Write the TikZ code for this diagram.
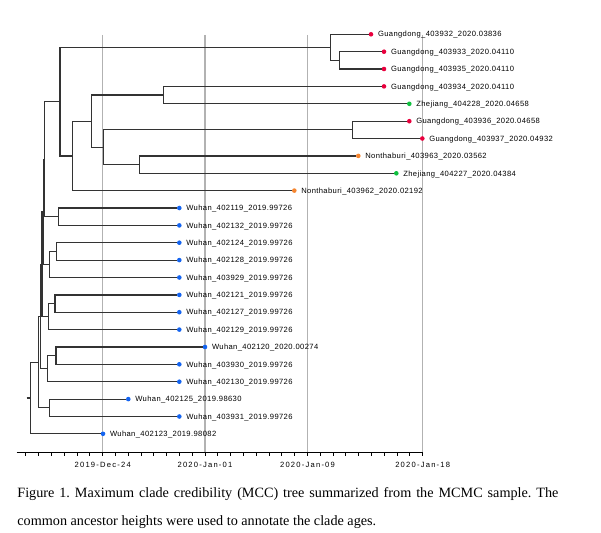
\documentclass[tikz,border=0pt]{standalone}
\usepackage{fontspec}
\setmainfont{Liberation Serif}
\newfontfamily\tipfont[LetterSpace=5]{Liberation Sans}
\newfontfamily\axisfont[LetterSpace=16]{Liberation Sans}
\usetikzlibrary{positioning}
\frenchspacing

\definecolor{gdred}{HTML}{E8003D}
\definecolor{zjgreen}{HTML}{10C040}
\definecolor{ntorange}{HTML}{F5852F}
\definecolor{whblue}{HTML}{1464F0}

\begin{document}
\begin{tikzpicture}[x=1pt, y=-1pt,
  branch/.style={draw=black!80, line width=1.2pt},
  tipdot/.style={circle, inner sep=0pt, minimum size=4.6pt},
  gdnode/.style={tipdot, fill=gdred},
  zjnode/.style={tipdot, fill=zjgreen},
  ntnode/.style={tipdot, fill=ntorange},
  whnode/.style={tipdot, fill=whblue},
  tiplabel/.style={inner sep=0pt, text height=5.4pt, text depth=0pt,
    font={\tipfont\fontsize{7.6}{9}\selectfont}},
  gridline/.style={draw=black!30, line width=1.2pt},
  axisline/.style={draw=black, line width=0.9pt},
  datelabel/.style={inner sep=0pt, font={\axisfont\fontsize{7.6}{9}\selectfont}},
  caption/.style={inner sep=0pt, font={\fontsize{14.2}{29}\selectfont}}]
  \useasboundingbox (0,0) rectangle (601,532);

  % time grid and axis
  \foreach \gx in {102.7,205,307.5,422.7}
    \draw[gridline] (\gx,35) -- (\gx,452.7);
  \draw[axisline] (16.7,452.7) -- (422.7,452.7);
  \foreach \k in {-6,...,25}
    \draw[axisline] ({102.7+12.8*\k},452.7) -- ++(0,3.5);
  \node[datelabel] (d1) at (102.7,465) {2019-Dec-24};
  \node[datelabel] (d2) at (205,465) {2020-Jan-01};
  \node[datelabel] (d3) at (307.5,465) {2020-Jan-09};
  \node[datelabel] (d4) at (422.7,465) {2020-Jan-18};

  % tips
  \node[gdnode] (t1) at (371,34.3) {};
  \node[gdnode] (t2) at (384,51.7) {};
  \node[gdnode] (t3) at (384,69.0) {};
  \node[gdnode] (t4) at (384,86.4) {};
  \node[zjnode] (t5) at (409.3,103.8) {};
  \node[gdnode] (t6) at (409.3,121.2) {};
  \node[gdnode] (t7) at (422.3,138.5) {};
  \node[ntnode] (t8) at (358.3,155.9) {};
  \node[zjnode] (t9) at (396.3,173.3) {};
  \node[ntnode] (t10) at (294.3,190.6) {};
  \node[whnode] (t11) at (179.3,208.0) {};
  \node[whnode] (t12) at (179.3,225.4) {};
  \node[whnode] (t13) at (179.3,242.7) {};
  \node[whnode] (t14) at (179.3,260.1) {};
  \node[whnode] (t15) at (179.3,277.5) {};
  \node[whnode] (t16) at (179.3,294.9) {};
  \node[whnode] (t17) at (179.3,312.2) {};
  \node[whnode] (t18) at (179.3,329.6) {};
  \node[whnode] (t19) at (205,347.0) {};
  \node[whnode] (t20) at (179.3,364.3) {};
  \node[whnode] (t21) at (179.3,381.7) {};
  \node[whnode] (t22) at (128.3,399.1) {};
  \node[whnode] (t23) at (179.3,416.5) {};
  \node[whnode] (t24) at (103,433.8) {};

  \node[tiplabel, right=4.3pt of t1] (l1) {Guangdong\_403932\_2020.03836};
  \node[tiplabel, right=4.3pt of t2] (l2) {Guangdong\_403933\_2020.04110};
  \node[tiplabel, right=4.3pt of t3] (l3) {Guangdong\_403935\_2020.04110};
  \node[tiplabel, right=4.3pt of t4] (l4) {Guangdong\_403934\_2020.04110};
  \node[tiplabel, right=4.3pt of t5] (l5) {Zhejiang\_404228\_2020.04658};
  \node[tiplabel, right=4.3pt of t6] (l6) {Guangdong\_403936\_2020.04658};
  \node[tiplabel, right=4.3pt of t7] (l7) {Guangdong\_403937\_2020.04932};
  \node[tiplabel, right=4.3pt of t8] (l8) {Nonthaburi\_403963\_2020.03562};
  \node[tiplabel, right=4.3pt of t9] (l9) {Zhejiang\_404227\_2020.04384};
  \node[tiplabel, right=4.3pt of t10] (l10) {Nonthaburi\_403962\_2020.02192};
  \node[tiplabel, right=4.3pt of t11] (l11) {Wuhan\_402119\_2019.99726};
  \node[tiplabel, right=4.3pt of t12] (l12) {Wuhan\_402132\_2019.99726};
  \node[tiplabel, right=4.3pt of t13] (l13) {Wuhan\_402124\_2019.99726};
  \node[tiplabel, right=4.3pt of t14] (l14) {Wuhan\_402128\_2019.99726};
  \node[tiplabel, right=4.3pt of t15] (l15) {Wuhan\_403929\_2019.99726};
  \node[tiplabel, right=4.3pt of t16] (l16) {Wuhan\_402121\_2019.99726};
  \node[tiplabel, right=4.3pt of t17] (l17) {Wuhan\_402127\_2019.99726};
  \node[tiplabel, right=4.3pt of t18] (l18) {Wuhan\_402129\_2019.99726};
  \node[tiplabel, right=4.3pt of t19] (l19) {Wuhan\_402120\_2020.00274};
  \node[tiplabel, right=4.3pt of t20] (l20) {Wuhan\_403930\_2019.99726};
  \node[tiplabel, right=4.3pt of t21] (l21) {Wuhan\_402130\_2019.99726};
  \node[tiplabel, right=4.3pt of t22] (l22) {Wuhan\_402125\_2019.98630};
  \node[tiplabel, right=4.3pt of t23] (l23) {Wuhan\_403931\_2019.99726};
  \node[tiplabel, right=4.3pt of t24] (l24) {Wuhan\_402123\_2019.98082};

  % ancestors
  \coordinate (cL) at (339.3,60.35);
  \coordinate (cK) at (330.7,47.3);
  \coordinate (cG) at (163.3,95.1);
  \coordinate (cI) at (352.3,129.85);
  \coordinate (cJ) at (139.3,164.6);
  \coordinate (cH) at (103.3,147.2);
  \coordinate (cF) at (91.7,121.15);
  \coordinate (cE) at (72.7,155.9);
  \coordinate (cD) at (60,101.6);
  \coordinate (cW1) at (58.7,216.7);
  \coordinate (cT) at (44.5,159.15);
  \coordinate (cW2a) at (56.7,251.4);
  \coordinate (cW2) at (49.3,264.45);
  \coordinate (cU) at (43.2,211.8);
  \coordinate (cW3a) at (55,303.55);
  \coordinate (cW3) at (48.3,316.6);
  \coordinate (cV) at (41.9,264.2);
  \coordinate (cW4a) at (56,355.65);
  \coordinate (cW4) at (47.7,368.7);
  \coordinate (cP) at (40.7,316.45);
  \coordinate (cW5) at (49.3,407.8);
  \coordinate (cB) at (38.3,362.1);
  \coordinate (cR) at (30.5,397.95);
  \coordinate (r0) at (26.5,397.95);

  % branches
  \draw[branch] (cL) |- (t2); \draw[branch] (cL) |- (t3);
  \draw[branch] (cK) |- (t1); \draw[branch] (cK) |- (cL);
  \draw[branch] (cG) |- (t4); \draw[branch] (cG) |- (t5);
  \draw[branch] (cI) |- (t6); \draw[branch] (cI) |- (t7);
  \draw[branch] (cJ) |- (t8); \draw[branch] (cJ) |- (t9);
  \draw[branch] (cH) |- (cI); \draw[branch] (cH) |- (cJ);
  \draw[branch] (cF) |- (cG); \draw[branch] (cF) |- (cH);
  \draw[branch] (cE) |- (cF); \draw[branch] (cE) |- (t10);
  \draw[branch] (cD) |- (cK); \draw[branch] (cD) |- (cE);
  \draw[branch] (cW1) |- (t11); \draw[branch] (cW1) |- (t12);
  \draw[branch] (cT) |- (cD); \draw[branch] (cT) |- (cW1);
  \draw[branch] (cW2a) |- (t13); \draw[branch] (cW2a) |- (t14);
  \draw[branch] (cW2) |- (cW2a); \draw[branch] (cW2) |- (t15);
  \draw[branch] (cU) |- (cT); \draw[branch] (cU) |- (cW2);
  \draw[branch] (cW3a) |- (t16); \draw[branch] (cW3a) |- (t17);
  \draw[branch] (cW3) |- (cW3a); \draw[branch] (cW3) |- (t18);
  \draw[branch] (cV) |- (cU); \draw[branch] (cV) |- (cW3);
  \draw[branch] (cW4a) |- (t19); \draw[branch] (cW4a) |- (t20);
  \draw[branch] (cW4) |- (cW4a); \draw[branch] (cW4) |- (t21);
  \draw[branch] (cP) |- (cV); \draw[branch] (cP) |- (cW4);
  \draw[branch] (cW5) |- (t22); \draw[branch] (cW5) |- (t23);
  \draw[branch] (cB) |- (cP); \draw[branch] (cB) |- (cW5);
  \draw[branch] (cR) |- (cB); \draw[branch] (cR) |- (t24);
  \draw[branch] (r0) -- (cR);

  % caption
  \node[caption, anchor=base west] (cap1) at (17.2,497)
    {\makebox[541pt][s]{Figure 1. Maximum clade credibility (MCC) tree summarized from the MCMC sample. The}};
  \node[caption, anchor=base west] (cap2) at (17.2,525.5)
    {common ancestor heights were used to annotate the clade ages.};
\end{tikzpicture}
\end{document}
